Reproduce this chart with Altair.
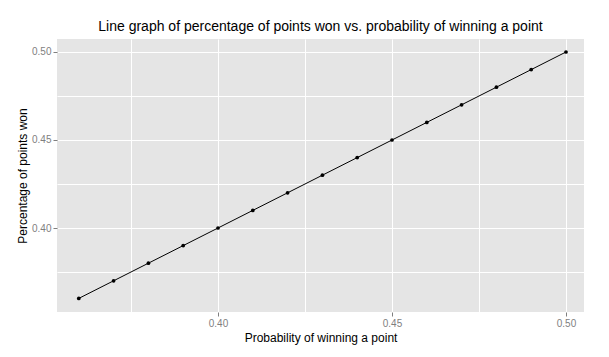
import altair as alt
import pandas as pd

prob = [0.36, 0.37, 0.38, 0.39, 0.40, 0.41, 0.42, 0.43, 0.44, 0.45, 0.46, 0.47, 0.48, 0.49, 0.50]
pct_won = [0.36, 0.37, 0.38, 0.39, 0.40, 0.41, 0.42, 0.43, 0.44, 0.45, 0.46, 0.47, 0.48, 0.49, 0.50]
grid_values = [0.375, 0.40, 0.425, 0.45, 0.475, 0.50]

df = pd.DataFrame({"p": prob, "w": pct_won})

minor = "abs(datum.value*20 - round(datum.value*20)) > 0.1"

def make_axis(title, title_pad, **kw):
    return alt.Axis(
        title=title,
        values=grid_values,
        labelExpr=f"({minor}) ? '' : format(datum.value, '.2f')",
        labelFont="Liberation Sans",
        labelFontSize=10,
        labelColor="#7F7F7F",
        labelPadding=2,
        tickColor="#7F7F7F",
        tickSize=4,
        tickOpacity={"condition": {"test": minor, "value": 0}, "value": 1},
        gridColor="#FFFFFF",
        gridWidth=1,
        domain=False,
        titleFont="Liberation Sans",
        titleFontSize=12,
        titleFontWeight="normal",
        titleColor="#000000",
        titlePadding=title_pad,
        **kw,
    )

x_dom = [0.353736, 0.505172]
y_dom = [0.352273, 0.507386]

x = alt.X("p:Q", scale=alt.Scale(domain=x_dom, nice=False, zero=False),
          axis=make_axis("Probability of winning a point", 4))
y = alt.Y("w:Q", scale=alt.Scale(domain=y_dom, nice=False, zero=False),
          axis=make_axis("Percentage of points won", 2))

base = alt.Chart(df).encode(x=x, y=y)
line = base.mark_line(color="black", strokeWidth=1)
pts = base.mark_circle(color="black", size=14, opacity=1)

chart = (line + pts).properties(
    width=527,
    height=273,
    title=alt.TitleParams(
        "Line graph of percentage of points won vs. probability of winning a point",
        font="Liberation Sans", fontSize=14, fontWeight="normal", color="#000000",
        anchor="middle", offset=5,
    ),
    autosize=alt.AutoSizeParams(type="none"),
    padding={"left": 49, "top": 31, "right": 17, "bottom": 37},
    background="white",
).configure_view(fill="#E5E5E5", stroke=None)

chart.save("out.html", embed_options={"renderer": "svg", "actions": False})
